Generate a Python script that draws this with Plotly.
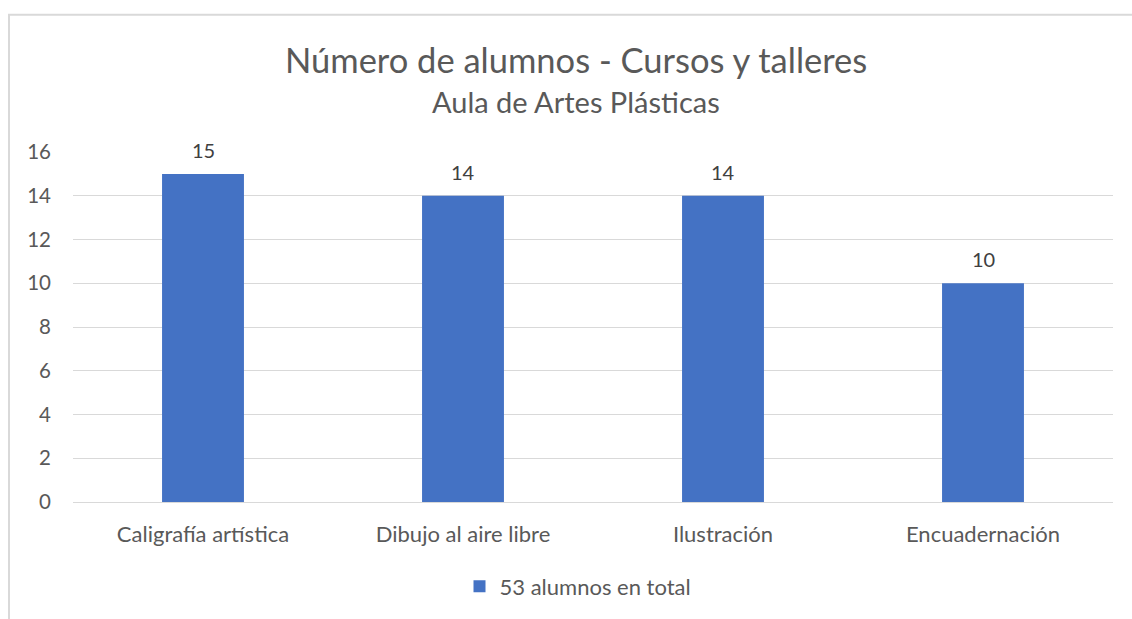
import plotly.graph_objects as go

categories = ["Caligrafía artística", "Dibujo al aire libre", "Ilustración", "Encuadernación"]
values = [15, 14, 14, 10]
series_name = "53 alumnos en total"
title_text = "Número de alumnos - Cursos y talleres"
subtitle_text = "Aula de Artes Plásticas"
y_ticks = [0, 2, 4, 6, 8, 10, 12, 14, 16]

FONT = "Lato"
GREY = "#595959"

fig = go.Figure()
fig.add_trace(go.Bar(
    x=categories, y=values, name=series_name,
    marker=dict(color="#4472C4", line=dict(width=0)),
    cliponaxis=False, showlegend=True,
))

L, R, T, B = 73, 19, 152, 115
W, H = 1132, 619
pw = W - L - R
ph = H - T - B

def px(x):
    return (x - L) / pw

def py(y):
    return (H - B - y) / ph

annotations = [
    dict(x=c, y=v, text=str(v), xref="x", yref="y", showarrow=False,
         xanchor="center", yanchor="bottom", yshift=10,
         font=dict(family=FONT, size=20, color="#404040"))
    for c, v in zip(categories, values)
]
annotations += [
    dict(text=title_text, xref="paper", yref="paper", x=px(576), y=py(59),
         xanchor="center", yanchor="middle", showarrow=False,
         font=dict(family=FONT, size=34.5, color=GREY)),
    dict(text=subtitle_text, xref="paper", yref="paper", x=px(576), y=py(101),
         xanchor="center", yanchor="middle", showarrow=False,
         font=dict(family=FONT, size=29, color=GREY)),
]

fig.update_layout(
    width=W, height=H,
    margin=dict(l=L, r=R, t=T, b=B, pad=0),
    paper_bgcolor="white", plot_bgcolor="white",
    bargap=0.685,
    font=dict(family=FONT, color=GREY),
    showlegend=True,
    legend=dict(orientation="h", x=px(578), xanchor="center", y=py(589), yanchor="middle",
                font=dict(family=FONT, size=22, color=GREY), itemwidth=30),
    xaxis=dict(showgrid=False, showline=False, zeroline=False, ticks="",
               ticklabelstandoff=17,
               tickfont=dict(family=FONT, size=22, color=GREY)),
    yaxis=dict(range=[0, 16], tickvals=y_ticks, showgrid=True, gridcolor="#D9D9D9", gridwidth=1,
               zeroline=True, zerolinecolor="#D9D9D9", zerolinewidth=1, showline=False,
               ticks="", ticklabelstandoff=21,
               tickfont=dict(family=FONT, size=20.5, color=GREY)),
    annotations=annotations,
    shapes=[
        dict(type="rect", xref="paper", yref="paper", x0=px(9), x1=px(1140), y0=py(640), y1=py(14),
             line=dict(color="#D9D9D9", width=2), fillcolor="rgba(0,0,0,0)", layer="below"),
    ],
)

fig.write_html("out.html", config={"displayModeBar": False},
               post_script="document.body.style.margin='0';document.body.style.overflow='hidden';")
